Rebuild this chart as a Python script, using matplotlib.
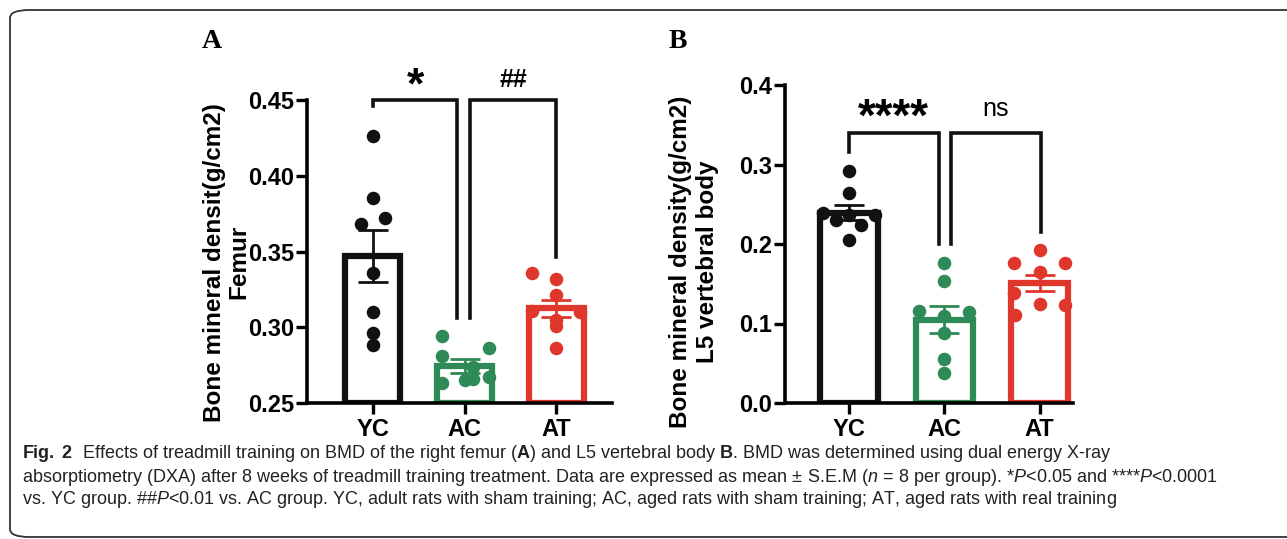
import numpy as np
import matplotlib.pyplot as plt
from matplotlib.patches import FancyBboxPatch

plt.rcParams['font.family'] = ['Liberation Sans', 'DejaVu Sans']
plt.rcParams['mathtext.fontset'] = 'custom'
plt.rcParams['mathtext.rm'] = 'Liberation Sans'
plt.rcParams['mathtext.it'] = 'Liberation Sans:italic'
plt.rcParams['mathtext.bf'] = 'Liberation Sans:bold'

groups = ['YC', 'AC', 'AT']
colors = ['#111111', '#2e8a57', '#e0372c']

# panel A, femur BMD (g/cm2)
femur_yc = [0.426, 0.385, 0.372, 0.368, 0.336, 0.310, 0.296, 0.288]
femur_ac = [0.294, 0.286, 0.281, 0.274, 0.266, 0.267, 0.263, 0.265]
femur_at = [0.336, 0.332, 0.321, 0.311, 0.310, 0.305, 0.301, 0.286]
femur_mean = [0.347, 0.2745, 0.3125]
femur_sem = [0.017, 0.0045, 0.0056]

# panel B, L5 vertebral body BMD (g/cm2)
l5_yc = [0.292, 0.264, 0.239, 0.237, 0.230, 0.224, 0.205, 0.237]
l5_ac = [0.176, 0.154, 0.116, 0.114, 0.109, 0.088, 0.055, 0.038]
l5_at = [0.193, 0.176, 0.176, 0.165, 0.138, 0.125, 0.123, 0.111]
l5_mean = [0.2395, 0.1045, 0.151]
l5_sem = [0.0095, 0.017, 0.0105]

# horizontal jitter of the dots (category units)
femur_jit = [[0, 0, 0.13, -0.13, 0, 0, 0, 0],
             [-0.25, 0.27, -0.25, 0.09, 0.09, 0.27, -0.25, 0],
             [-0.26, 0, 0, -0.26, 0.26, 0, 0, 0]]
l5_jit = [[0, 0, -0.27, 0, -0.13, 0.13, 0, 0.27],
          [0, 0, -0.26, 0.26, 0, 0, 0, 0],
          [0, -0.27, 0.27, 0, -0.27, 0, 0.27, -0.26]]

fig = plt.figure(figsize=(12.87, 5.39), dpi=100)


def panel(ax, pts, mean, sem, jit, ylim, yticks, fmt, ylabel, lsp, lab_xy):
    x = np.arange(len(groups))
    base = ylim[0]
    for i in range(len(groups)):
        ax.bar(x[i], mean[i] - base, bottom=base, width=0.6, facecolor='white',
               edgecolor=colors[i], linewidth=4.5, zorder=2)
        ax.scatter(x[i] + np.array(jit[i]), pts[i], s=95, color=colors[i],
                   zorder=3, linewidths=0)
        ax.errorbar(x[i], mean[i], yerr=sem[i], color=colors[i], capsize=11,
                    elinewidth=2, capthick=2, zorder=4)
    ax.set_ylim(*ylim)
    ax.set_yticks(yticks)
    ax.set_yticklabels([fmt.format(t) for t in yticks])
    ax.set_xticks(x)
    ax.set_xticklabels(groups)
    for s in ['top', 'right']:
        ax.spines[s].set_visible(False)
    for s in ['left', 'bottom']:
        ax.spines[s].set_linewidth(2.6)
    ax.tick_params(direction='out', length=8, width=2.4, labelsize=17, pad=1.5)
    ax.tick_params(axis='x', pad=3)
    for lab in ax.get_xticklabels() + ax.get_yticklabels():
        lab.set_fontweight('bold')
    ax.set_ylabel(ylabel, fontsize=17.5, fontweight='bold', linespacing=lsp)
    ax.yaxis.set_label_coords(*lab_xy)


def bracket(ax, x1, x2, ytop, y1, y2):
    ax.plot([x1, x1, x2, x2], [y1, ytop, ytop, y2], color='#111111', lw=2.6,
            solid_joinstyle='miter', clip_on=False, zorder=5)


def mark(ax, xc, y, text, size, dy=0, weight='bold'):
    ax.annotate(text, (xc, y), xytext=(0, dy), textcoords='offset points',
                ha='center', va='center', fontsize=size, fontweight=weight,
                annotation_clip=False)


axA = fig.add_axes([307 / 1287, 136 / 539, (612 - 307) / 1287, 303 / 539])
panel(axA, [femur_yc, femur_ac, femur_at], femur_mean, femur_sem, femur_jit,
      (0.25, 0.45), [0.25, 0.30, 0.35, 0.40, 0.45], '{:.2f}',
      'Bone mineral densit(g/cm2)\nFemur', 1.05, (-0.187, 0.465))
axA.set_xlim(-0.72, 2.61)
bracket(axA, 0, 0.92, 0.45, 0.446, 0.306)
bracket(axA, 1.06, 2.0, 0.45, 0.306, 0.3466)
mark(axA, 0.46, 0.4635, '*', 32, dy=-5.5)
mark(axA, 1.53, 0.4635, '##', 18)

axB = fig.add_axes([785 / 1287, 136 / 539, (1073 - 785) / 1287, 318 / 539])
panel(axB, [l5_yc, l5_ac, l5_at], l5_mean, l5_sem, l5_jit,
      (0.0, 0.4), [0.0, 0.1, 0.2, 0.3, 0.4], '{:.1f}',
      'Bone mineral density(g/cm2)\nL5 vertebral body', 1.23, (-0.228, 0.443))
axB.set_xlim(-0.67, 2.35)
bracket(axB, 0, 0.94, 0.339, 0.316, 0.200)
bracket(axB, 1.07, 2.01, 0.339, 0.200, 0.2155)
mark(axB, 0.47, 0.366, '****', 33, dy=-5)
mark(axB, 1.54, 0.370, 'ns', 18, weight='normal')

fig.text(212 / 1287, 1 - 42 / 539, 'A', family='Liberation Serif', fontweight='bold',
         fontsize=20, ha='center', va='center')
fig.text(678 / 1287, 1 - 41 / 539, 'B', family='Liberation Serif', fontweight='bold',
         fontsize=20, ha='center', va='center')

# caption
cap = dict(family=['Liberation Sans', 'DejaVu Sans'], fontsize=13,
           ha='left', va='center', color='#222222')
fig.text(22 / 1287, 1 - 453 / 539,
         r'$\mathbf{Fig.\ 2}$  Effects of treadmill training on BMD of the right femur ($\mathbf{A}$) '
         r'and L5 vertebral body $\mathbf{B}$. BMD was determined using dual energy X-ray', **cap)
fig.text(22 / 1287, 1 - 477 / 539,
         r'absorptiometry (DXA) after 8 weeks of treadmill training treatment. Data are expressed as '
         r'mean$\,\pm\,$S.E.M ($\mathit{n}$$\,=\,$8 per group). *$\mathit{P}$<0.05 and ****$\mathit{P}$<0.0001',
         **cap)
fig.text(22 / 1287, 1 - 500 / 539,
         r'vs. YC group. ##$\mathit{P}$<0.01 vs. AC group. YC, adult rats with sham training; '
         r'AC, aged rats with sham training; AT, aged rats with real training', **cap)

box = FancyBboxPatch((10 / 1287, 2 / 539), 1.2, 1 - 12 / 539,
                     boxstyle='round,pad=0,rounding_size=0.015', transform=fig.transFigure,
                     facecolor='none', edgecolor='#333333', linewidth=1.3, clip_on=False)
fig.patches.append(box)

fig.savefig('out.png', dpi=100)
